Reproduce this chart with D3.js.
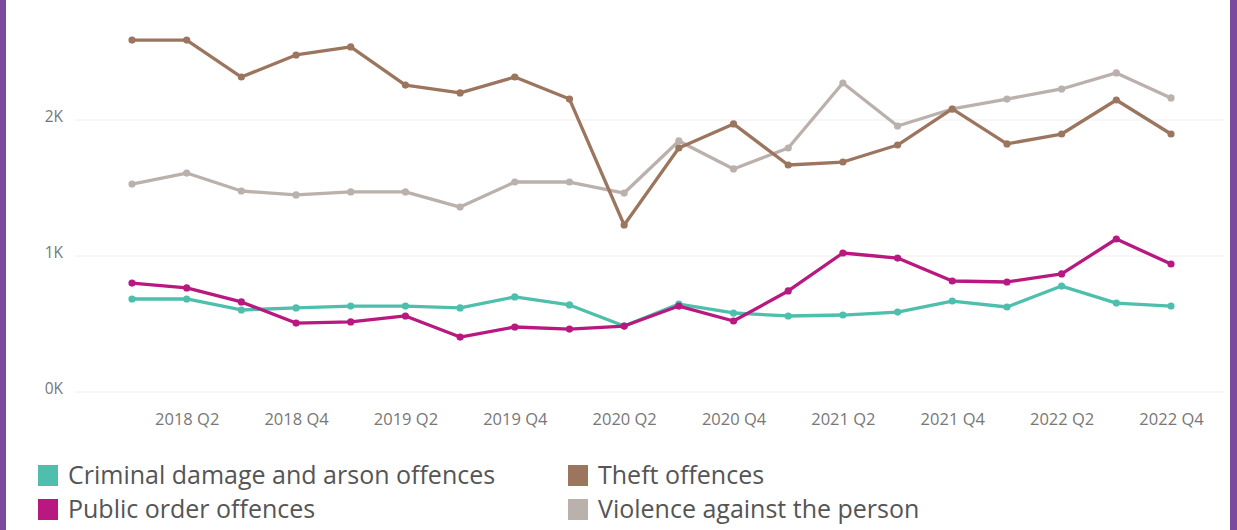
<!DOCTYPE html>
<html>
<head>
<meta charset="utf-8">
<script src="https://cdn.jsdelivr.net/npm/d3@7"></script>
<style>
  html, body { margin: 0; padding: 0; background: #fff; }
  svg { display: block; }
</style>
</head>
<body>
<div id="chart"></div>
<script>
const quarters = ["2018 Q1","2018 Q2","2018 Q3","2018 Q4","2019 Q1","2019 Q2","2019 Q3","2019 Q4",
  "2020 Q1","2020 Q2","2020 Q3","2020 Q4","2021 Q1","2021 Q2","2021 Q3","2021 Q4",
  "2022 Q1","2022 Q2","2022 Q3","2022 Q4"];
const tickLabels = ["2018 Q2","2018 Q4","2019 Q2","2019 Q4","2020 Q2","2020 Q4","2021 Q2","2021 Q4","2022 Q2","2022 Q4"];
const yTicks = [0, 1000, 2000];

const criminalDamage = [684,684,603,618,632,632,618,699,640,485,647,581,559,566,588,669,625,779,654,632];
const publicOrder    = [801,765,662,507,515,559,404,478,463,485,632,522,743,1022,985,816,809,868,1125,941];
const theft          = [2588,2588,2316,2478,2537,2257,2199,2316,2154,1228,1794,1971,1669,1691,1816,2081,1824,1897,2147,1897];
const violence       = [1529,1610,1478,1449,1471,1471,1360,1544,1544,1463,1846,1640,1794,2272,1956,2081,2154,2228,2346,2162];

const seriesNames = ["Criminal damage and arson offences","Public order offences","Theft offences","Violence against the person"];
const seriesColors = ["#4fbfad","#b8187f","#9c755f","#bab0ac"];
const seriesData = [criminalDamage, publicOrder, theft, violence];

const W = 1237, H = 530;
const svg = d3.select("#chart").append("svg").attr("width", W).attr("height", H);

// purple frame
svg.append("rect").attr("x", 0).attr("y", 0).attr("width", 6).attr("height", H).attr("fill", "#7b4a9e");
svg.append("rect").attr("x", W - 7).attr("y", 0).attr("width", 7).attr("height", H).attr("fill", "#7b4a9e");

const plotLeft = 75, plotRight = 1225;
const x = d3.scalePoint().domain(quarters).range([132, 1171]);
const y = d3.scaleLinear().domain([0, 2000]).range([392, 120]);

// gridlines
svg.append("g").selectAll("line").data(yTicks).join("line")
  .attr("x1", plotLeft).attr("x2", plotRight)
  .attr("y1", d => y(d)).attr("y2", d => y(d))
  .attr("stroke", "#eeeeee").attr("stroke-width", 1);

// y axis labels
const yAxis = d3.axisLeft(y).tickValues(yTicks).tickSize(0).tickPadding(0)
  .tickFormat(d => (d / 1000) + "K");
const gy = svg.append("g").attr("transform", `translate(${plotLeft - 12},-3)`).call(yAxis);
gy.select(".domain").remove();
gy.selectAll("text").attr("font-family", "Open Sans, sans-serif").attr("font-size", 15.5).attr("fill", "#777");

// x axis labels
const xAxis = d3.axisBottom(x).tickValues(tickLabels).tickSize(0).tickPadding(0);
const gx = svg.append("g").attr("transform", `translate(0,${413})`).call(xAxis);
gx.select(".domain").remove();
gx.selectAll("text").attr("font-family", "Open Sans, sans-serif").attr("font-size", 16.5).attr("fill", "#777");

// lines & points (draw order: violence, theft, criminal, public)
const order = [3, 2, 0, 1];
const line = d3.line().x((d, i) => x(quarters[i])).y(d => y(d));
order.forEach(k => {
  const g = svg.append("g");
  g.append("path").datum(seriesData[k]).attr("d", line)
    .attr("fill", "none").attr("stroke", seriesColors[k]).attr("stroke-width", 3.3)
    .attr("stroke-linejoin", "round");
  g.selectAll("circle").data(seriesData[k]).join("circle")
    .attr("cx", (d, i) => x(quarters[i])).attr("cy", d => y(d)).attr("r", 3.6)
    .attr("fill", seriesColors[k]);
});

// legend
const legendPos = [[38, 465], [38, 499], [568, 465], [568, 499]];
seriesNames.forEach((name, i) => {
  const [lx, ly] = legendPos[i];
  svg.append("rect").attr("x", lx).attr("y", ly).attr("width", 20).attr("height", 21).attr("fill", seriesColors[i]);
  svg.append("text").attr("x", lx + 30).attr("y", ly + 19)
    .attr("font-family", "Open Sans, sans-serif").attr("font-size", 25).attr("fill", "#555")
    .text(name);
});
</script>
</body>
</html>
